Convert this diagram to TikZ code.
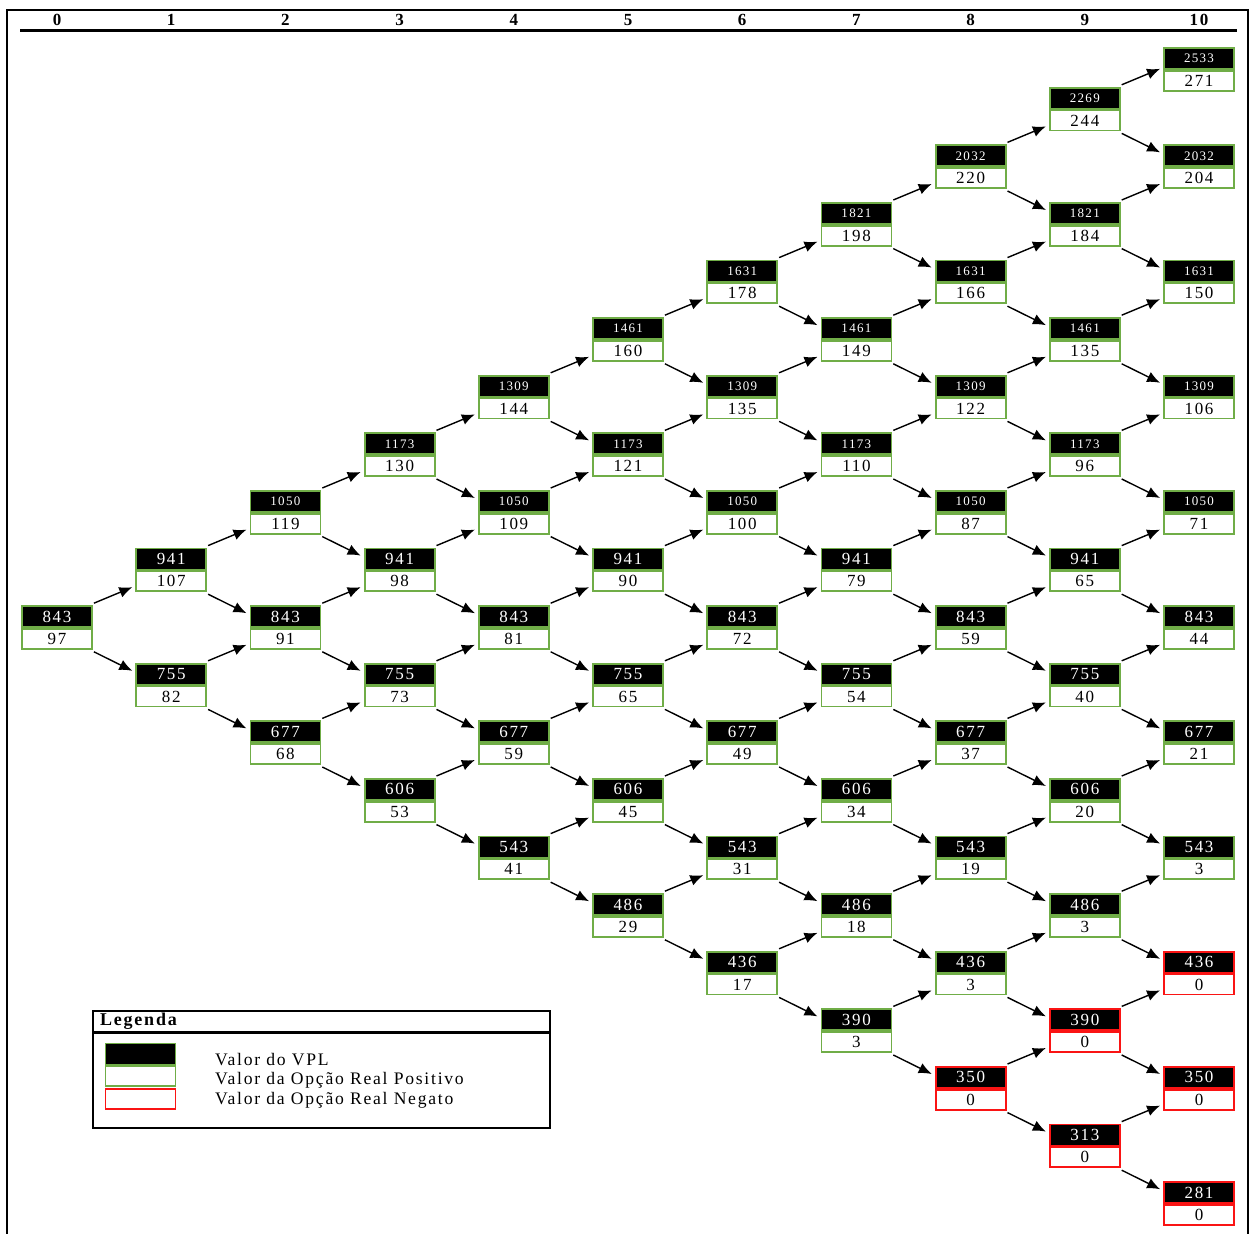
\documentclass[tikz,border=0pt]{standalone}
\usepackage{fontspec}
\setmainfont{Liberation Serif}[LetterSpace=10]
\usepackage{xcolor}
\usetikzlibrary{arrows.meta}
\definecolor{optgreen}{RGB}{112,173,71}
\definecolor{optred}{RGB}{250,20,20}
\newcommand{\bignum}{\fontsize{8.5}{9}\selectfont}
\newcommand{\smallnum}{\fontsize{6.5}{7}\selectfont}

\begin{document}
\begin{tikzpicture}[x=0.5pt, y=-0.5pt,
  vpl/.style={draw=optgreen, fill=black, text=white, minimum width=35pt,
              minimum height=10.5pt, inner sep=0pt, line width=0.9pt},
  opt/.style={draw=optgreen, fill=white, minimum width=35pt, font=\bignum,
              minimum height=10pt, inner sep=0pt, line width=0.9pt},
  hdr/.style={font=\bfseries\fontsize{8.5}{9}\selectfont},
  leg/.style={anchor=west, font=\fontsize{8.8}{10}\selectfont},
  arr/.style={-{Latex[length=6.5pt, width=5.5pt]}, line width=0.7pt}
]
\useasboundingbox (0,0) rectangle (1251,1234);
% frame and period header
\draw[line width=1pt] (7,1234) -- (7,10) -- (1248,10) -- (1248,1234);
\foreach \i in {0,...,10} {
  \pgfmathsetmacro\xc{57+114.2*\i}
  \node[hdr] (h\i) at (\xc,20) {\i};
}
\draw[line width=1.5pt] (20,31) -- (1237,31);
% lattice: column / list of VPL/option from the lowest node up
\foreach \i/\vals in {
  0/{843/97},
  1/{755/82,941/107},
  2/{677/68,843/91,1050/119},
  3/{606/53,755/73,941/98,1173/130},
  4/{543/41,677/59,843/81,1050/109,1309/144},
  5/{486/29,606/45,755/65,941/90,1173/121,1461/160},
  6/{436/17,543/31,677/49,843/72,1050/100,1309/135,1631/178},
  7/{390/3,486/18,606/34,755/54,941/79,1173/110,1461/149,1821/198},
  8/{350/0,436/3,543/19,677/37,843/59,1050/87,1309/122,1631/166,2032/220},
  9/{313/0,390/0,486/3,606/20,755/40,941/65,1173/96,1461/135,1821/184,2269/244},
  10/{281/0,350/0,436/0,543/3,677/21,843/44,1050/71,1309/106,1631/150,2032/204,2533/271}} {
  \pgfmathsetmacro\xc{57+114.2*\i}
  \foreach \v/\o [count=\j from 0] in \vals {
    \pgfmathsetmacro\yb{628-(2*\j-\i)*57.6+((\j==10) ? 18 : 0)}
    \ifnum\o=0 \def\bcol{optred}\else\def\bcol{optgreen}\fi
    \ifnum\v>999 \let\vf\smallnum\else\let\vf\bignum\fi
    \node[vpl, draw=\bcol, font=\vf, anchor=south] (v-\i-\j) at (\xc,\yb) {\v};
    \node[opt, draw=\bcol, anchor=north] (o-\i-\j) at (v-\i-\j.south) {\o};
  }
}
% up and down moves
\foreach \i in {0,...,9} {
  \pgfmathtruncatemacro\ni{\i+1}
  \foreach \j in {0,...,\i} {
    \pgfmathtruncatemacro\nj{\j+1}
    \pgfmathsetmacro\dy{(\nj==10) ? -23 : -5}
    \draw[arr] ([shift={(1,-2)}]v-\i-\j.north east) -- ([shift={(-3,\dy)}]o-\ni-\nj.south west);
    \draw[arr] ([shift={(1,2)}]o-\i-\j.south east) -- ([shift={(-3,8)}]v-\ni-\j.north west);
  }
}
% legend
\draw[line width=1pt] (93,1011) rectangle (550,1128);
\draw[line width=1.5pt] (93,1032) -- (550,1032);
\node[anchor=west, font=\bfseries\fontsize{9}{10}\selectfont] (legtitle) at (93,1021) {Legenda};
\node[vpl] (legvpl) at (140.5,1054) {};
\node[opt] (legpos) at (140.5,1076) {};
\node[opt, draw=optred] (legneg) at (140.5,1099) {};
\node[leg] (txtvpl) at (208,1060) {Valor do VPL};
\node[leg] (txtpos) at (208,1080) {Valor da Opção Real Positivo};
\node[leg] (txtneg) at (208,1100) {Valor da Opção Real Negato};
\end{tikzpicture}
\end{document}
